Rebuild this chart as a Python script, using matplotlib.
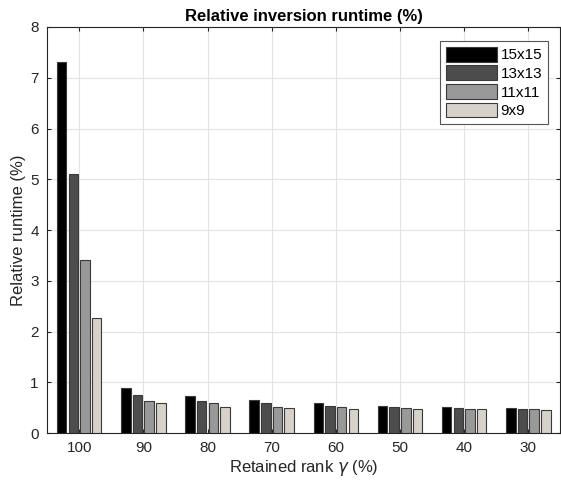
import matplotlib.pyplot as plt
import numpy as np

plt.rcParams['font.family'] = ['Liberation Sans', 'DejaVu Sans']

# data
ranks = ['100', '90', '80', '70', '60', '50', '40', '30']
labels = ['15x15', '13x13', '11x11', '9x9']
r15 = [7.32, 0.89, 0.73, 0.65, 0.59, 0.54, 0.51, 0.49]
r13 = [5.10, 0.74, 0.63, 0.59, 0.54, 0.52, 0.50, 0.48]
r11 = [3.41, 0.63, 0.59, 0.52, 0.51, 0.49, 0.48, 0.48]
r9 = [2.27, 0.59, 0.51, 0.50, 0.48, 0.47, 0.47, 0.46]
series = [r15, r13, r11, r9]
colors = ['#000000', '#4d4d4d', '#999999', '#d6d2c9']

fig = plt.figure(figsize=(5.61, 4.83), dpi=100)
ax = fig.add_axes([0.084, 0.1035, 0.915, 0.8406])

x = np.arange(len(ranks))
step = 0.182
width = 0.148
for i, (vals, c, lab) in enumerate(zip(series, colors, labels)):
    ax.bar(x + (i - 1.5) * step, vals, width, color=c, edgecolor='#3a3a3a',
           linewidth=0.8, label=lab, zorder=3)

ax.set_xlim(-0.5, len(ranks) - 0.5)
ax.set_ylim(0, 8)
ax.set_xticks(x)
ax.set_xticklabels(ranks)
ax.set_yticks(range(0, 9))
ax.grid(True, color='#e3e3e3', linewidth=0.8, zorder=0)
ax.tick_params(direction='in', length=3, colors='#262626', labelsize=11,
               top=True, right=True, pad=6)
for s in ax.spines.values():
    s.set_color('#262626')
    s.set_linewidth(0.8)

ax.set_xlabel(r'Retained rank $\gamma$ (%)', fontsize=12, color='#262626', labelpad=2)
ax.set_ylabel('Relative runtime (%)', fontsize=12, color='#262626', labelpad=3)
ax.set_title('Relative inversion runtime (%)', fontsize=12, fontweight='bold',
             pad=4)

leg = ax.legend(loc='upper right', bbox_to_anchor=(0.976, 0.966), fontsize=11,
                fancybox=False, framealpha=1, edgecolor='#555555',
                handlelength=3.3, handleheight=1.1, handletextpad=0.25,
                labelspacing=0.2, borderpad=0.4, borderaxespad=0)
leg.get_frame().set_linewidth(0.8)

fig.savefig('out.png', dpi=100)
